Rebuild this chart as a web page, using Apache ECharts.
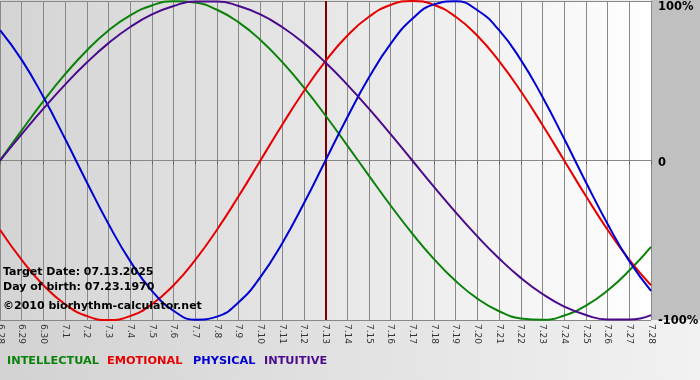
<!DOCTYPE html>
<html><head><meta charset="utf-8">
<script src="https://cdn.jsdelivr.net/npm/echarts@6/dist/echarts.min.js"></script>
<style>html,body{margin:0;padding:0;}#c{width:700px;height:380px;}</style>
</head><body><div id="c"></div>
<script>
const dates = ['6.28','6.29','6.30','7.1','7.2','7.3','7.4','7.5','7.6','7.7','7.8','7.9','7.10','7.11','7.12','7.13','7.14','7.15','7.16','7.17','7.18','7.19','7.20','7.21','7.22','7.23','7.24','7.25','7.26','7.27','7.28'];
const physical = [0.817,0.631,0.398,0.136,-0.136,-0.398,-0.631,-0.817,-0.942,-0.998,-0.979,-0.888,-0.731,-0.520,-0.270,0,0.270,0.520,0.731,0.888,0.979,0.998,0.942,0.817,0.631,0.398,0.136,-0.136,-0.398,-0.631,-0.817];
const emotional = [-0.434,-0.623,-0.782,-0.901,-0.975,-1,-0.975,-0.901,-0.782,-0.623,-0.434,-0.223,0,0.223,0.434,0.623,0.782,0.901,0.975,1,0.975,0.901,0.782,0.623,0.434,0.223,0,-0.223,-0.434,-0.623,-0.782];
const intellectual = [0,0.189,0.372,0.541,0.690,0.815,0.910,0.972,0.999,0.990,0.945,0.866,0.756,0.618,0.458,0.282,0.095,-0.095,-0.282,-0.458,-0.618,-0.756,-0.866,-0.945,-0.990,-0.999,-0.972,-0.910,-0.815,-0.690,-0.541];
const intuitive = [0,0.165,0.325,0.476,0.614,0.736,0.837,0.916,0.969,0.997,0.997,0.969,0.916,0.837,0.736,0.614,0.476,0.325,0.165,0,-0.165,-0.325,-0.476,-0.614,-0.736,-0.837,-0.916,-0.969,-0.997,-0.997,-0.969];
const yTicks = [1, 0, -1];
const yTickLabels = ['100%', '0', '-100%'];
const targetDate = '7.13';
const infoLines = ['Target Date: 07.13.2025', 'Day of birth: 07.23.1970', '\u00A92010 biorhythm-calculator.net'];
const legendNames = ['INTELLECTUAL', 'EMOTIONAL', 'PHYSICAL', 'INTUITIVE'];

const colors = {INTELLECTUAL:'#0a820a', EMOTIONAL:'#e60000', PHYSICAL:'#0000d2', INTUITIVE:'#4b0a8c'};
const font = '"DejaVu Sans", Verdana, sans-serif';

const chart = echarts.init(document.getElementById('c'));
const G = {left:0, right:49, top:1, bottom:60};

function line(name, data, extra) {
  return Object.assign({
    name, type:'line', data, smooth:true, symbol:'none',
    lineStyle:{color:colors[name], width:2}, itemStyle:{color:colors[name]}, z:3
  }, extra || {});
}

chart.setOption({
  animation:false,
  backgroundColor: new echarts.graphic.LinearGradient(0,0,1,0,[{offset:0,color:'#d2d2d2'},{offset:1,color:'#f2f2f2'}]),
  grid:{left:G.left, right:G.right, top:G.top, bottom:G.bottom, outerBoundsMode:'none', containLabel:false, show:true, borderWidth:0,
    backgroundColor: new echarts.graphic.LinearGradient(0,0,1,0,[{offset:0,color:'#d4d4d4'},{offset:0.6,color:'#ebebeb'},{offset:1,color:'#ffffff'}])},
  xAxis:{type:'category', data:dates, boundaryGap:false,
    axisLine:{show:true, lineStyle:{color:'#888', width:1}},
    axisTick:{show:true, length:4, interval:0, lineStyle:{color:'#666'}},
    splitLine:{show:true, interval:0, lineStyle:{color:'#888', width:1}},
    axisLabel:{interval:0, rotate:-90, fontSize:9, color:'#333', fontFamily:font, margin:4}
  },
  yAxis:{type:'value', position:'right', min:-1, max:1, interval:1,
    axisLine:{show:false}, axisTick:{show:false},
    splitLine:{show:true, lineStyle:{color:'#888', width:1}},
    axisLabel:{show:false}
  },
  series:[
    line('INTELLECTUAL', intellectual, {markLine:{silent:true, symbol:'none', label:{show:false},
      lineStyle:{color:'#7a0000', width:2, type:'solid'}, data:[{xAxis:targetDate}], z:2}}),
    line('EMOTIONAL', emotional),
    line('PHYSICAL', physical),
    line('INTUITIVE', intuitive)
  ]
});

const gfx = [{type:'rect', shape:{x:651, y:0, width:49, height:320}, style:{fill:'#c0c0c0'}, z:-10, silent:true}];
const offs = [6, 3, 1];
yTicks.forEach((v,i)=>{
  const p = chart.convertToPixel({gridIndex:0}, [dates[dates.length-1], v]);
  gfx.push({type:'text', x:p[0]+7, y:p[1]+offs[i], style:{text:yTickLabels[i], fill:'#000', font:'bold 11.5px '+font, verticalAlign:'middle', align:'left'}, z:10});
});
const infoY = [272, 287, 306];
infoLines.forEach((t,i)=>{
  gfx.push({type:'text', x:3, y:infoY[i], style:{text:t, fill:'#000', font:'bold 11px '+font, verticalAlign:'middle'}, z:10});
});
const legendX = [7, 107, 193, 264];
legendNames.forEach((n,i)=>{
  gfx.push({type:'text', x:legendX[i], y:361, style:{text:n, fill:colors[n], font:'bold 11.3px '+font, verticalAlign:'middle'}, z:10});
});
chart.setOption({graphic:gfx}, {replaceMerge:['graphic']});
</script></body></html>
